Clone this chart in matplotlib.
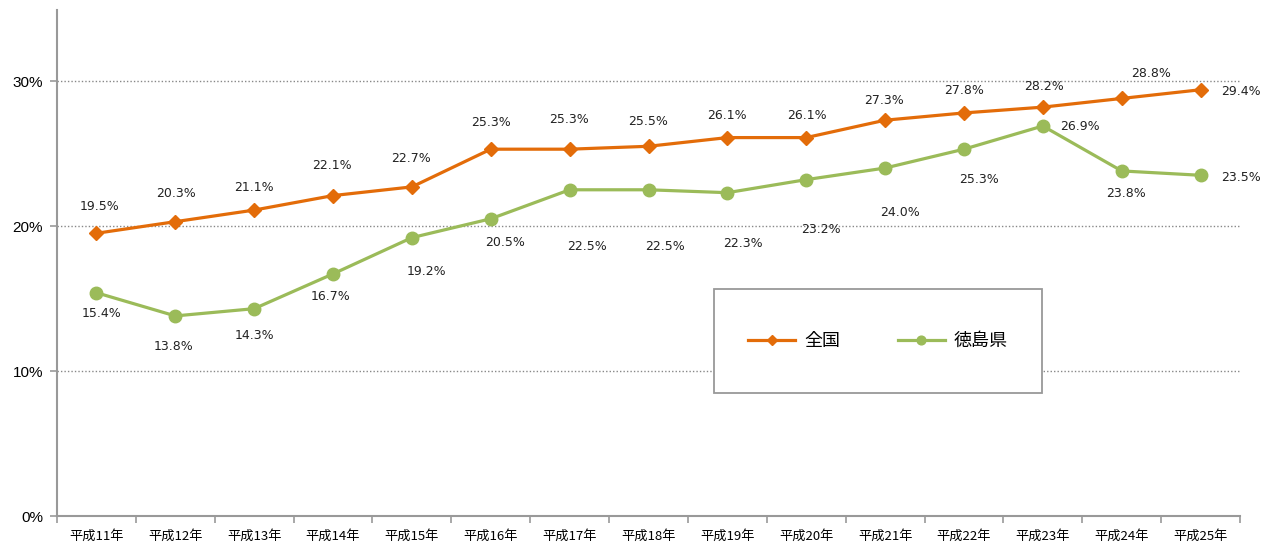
import matplotlib.pyplot as plt
from matplotlib.patches import Rectangle
from matplotlib.ticker import FixedLocator

plt.rcParams['font.family'] = ['Noto Sans CJK JP', 'DejaVu Sans']

# データ
years = ['平成11年', '平成12年', '平成13年', '平成14年', '平成15年', '平成16年', '平成17年', '平成18年',
         '平成19年', '平成20年', '平成21年', '平成22年', '平成23年', '平成24年', '平成25年']
zenkoku = [19.5, 20.3, 21.1, 22.1, 22.7, 25.3, 25.3, 25.5, 26.1, 26.1, 27.3, 27.8, 28.2, 28.8, 29.4]
tokushima = [15.4, 13.8, 14.3, 16.7, 19.2, 20.5, 22.5, 22.5, 22.3, 23.2, 24.0, 25.3, 26.9, 23.8, 23.5]

# ラベルの位置 (ピクセル)
off_zen = [(3, 27), (1, 28), (0, 23), (-1, 30), (-1, 28), (0, 27), (-1, 30), (0, 25),
           (0, 22), (1, 22), (-1, 20), (0, 22), (1, 21), (29, 25), (40, -2)]
off_tok = [(5, -21), (-2, -31), (0, -27), (-2, -23), (15, -34), (14, -24), (17, -57), (17, -57),
           (16, -51), (15, -50), (15, -44), (15, -30), (37, -1), (4, -23), (40, -2)]

orange = '#E36C09'
green = '#9BBB59'

fig = plt.figure(figsize=(12.75, 5.47), dpi=100)
ax = fig.add_axes([57 / 1275, 31 / 547, (1240 - 57) / 1275, (516 - 10) / 547])

x = list(range(len(years)))
ax.plot(x, zenkoku, color=orange, lw=2.3, marker='D', ms=7.5, label='全国', zorder=3)
ax.plot(x, tokushima, color=green, lw=2.3, marker='o', ms=9, label='徳島県', zorder=3)

for i in x:
    ax.annotate(f'{zenkoku[i]:.1f}%', (i, zenkoku[i]), xytext=off_zen[i], textcoords='offset pixels',
                ha='center', va='center', fontsize=9, family='DejaVu Sans', color='#222222')
    ax.annotate(f'{tokushima[i]:.1f}%', (i, tokushima[i]), xytext=off_tok[i], textcoords='offset pixels',
                ha='center', va='center', fontsize=9, family='DejaVu Sans', color='#222222')

ax.set_xlim(-0.5, len(years) - 0.5)
ax.set_ylim(0, 34.9)
ax.set_yticks([0, 10, 20, 30])
ax.set_yticklabels(['0%', '10%', '20%', '30%'], fontsize=11, family='Liberation Sans')
ax.set_xticks(x)
ax.set_xticklabels(years, fontsize=9.5)
ax.xaxis.set_minor_locator(FixedLocator([i - 0.5 for i in range(len(years) + 1)]))
ax.tick_params(axis='x', which='major', length=0, pad=10)
ax.tick_params(axis='x', which='minor', length=5, color='#999999', width=1.2)
ax.tick_params(axis='y', length=5, color='#999999', width=1.2, pad=5)

for y in [10, 20, 30]:
    ax.axhline(y, color='#888888', lw=1, ls=(0, (1, 1.5)), zorder=1)

for s in ['top', 'right']:
    ax.spines[s].set_visible(False)
for s in ['left', 'bottom']:
    ax.spines[s].set_color('#999999')
    ax.spines[s].set_linewidth(1.5)

# 凡例の枠
ax.add_patch(Rectangle((0.555, 0.243), 0.278, 0.206, transform=ax.transAxes,
                       facecolor='white', edgecolor='#999999', lw=1.3, zorder=4))
leg = ax.legend(loc='center', bbox_to_anchor=(0.694, 0.346), ncol=2, frameon=False,
                prop={'size': 13}, handlelength=2.6, handletextpad=0.5,
                columnspacing=3.2, markerscale=0.7)
leg.set_zorder(5)

fig.savefig('out.png', dpi=100)
